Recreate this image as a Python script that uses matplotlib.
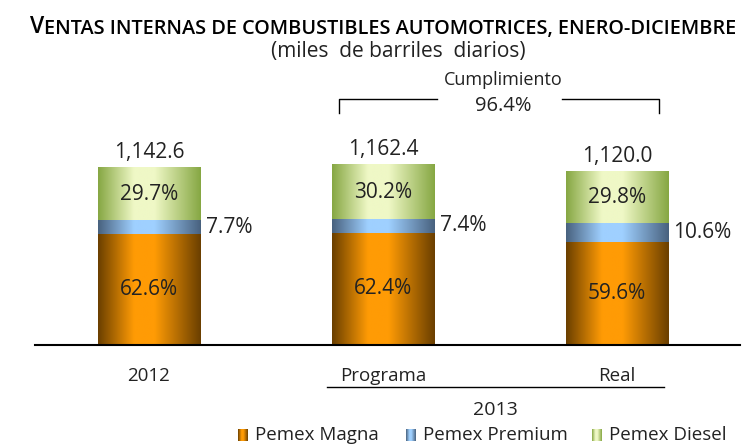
import matplotlib
matplotlib.use("Agg")
import matplotlib.pyplot as plt
import numpy as np
from matplotlib.colors import LinearSegmentedColormap
from matplotlib.transforms import blended_transform_factory

plt.rcParams['font.family'] = ['Open Sans', 'DejaVu Sans']

# data
categories = ['2012', 'Programa', 'Real']
totals = [1142.6, 1162.4, 1120.0]
magna_pct = [62.6, 62.4, 59.6]
premium_pct = [7.7, 7.4, 10.6]
diesel_pct = [29.7, 30.2, 29.8]
cumplimiento = 96.4
series_names = ['Pemex Magna', 'Pemex Premium', 'Pemex Diesel']

W, H = 752, 445
fig = plt.figure(figsize=(W / 100, H / 100), dpi=100)

def fx(px):
    return px / W

def fy(py):
    return 1 - py / H

# axes: baseline at px 345, x from 35 to 740
ax = fig.add_axes([fx(35), fy(345), (740 - 35) / W, 217 / H])
ymax = 1400
xmin, xmax = -0.487, 2.526

def grad_cmap(dark, bright):
    return LinearSegmentedColormap.from_list(
        'g', [(0, dark), (0.35, bright), (0.55, bright), (1, dark)])

cmaps = [grad_cmap('#6a3f00', '#ff9b05'),
         grad_cmap('#48617e', '#9fd0ff'),
         grad_cmap('#86a743', '#eff8c6')]
grad = np.linspace(0, 1, 256).reshape(1, -1)

x = np.arange(len(categories))
width = 0.436
pcts = [magna_pct, premium_pct, diesel_pct]
txt = '#222222'

for i in range(len(categories)):
    bottom = 0
    for k in range(3):
        h = totals[i] * pcts[k][i] / 100
        ax.imshow(grad, cmap=cmaps[k], aspect='auto', interpolation='bilinear',
                  extent=[x[i] - width / 2, x[i] + width / 2, bottom, bottom + h])
        mid = bottom + h / 2
        if k == 1:
            ax.annotate(f'{pcts[k][i]:.1f}%', (x[i] + width / 2, mid),
                        xytext=(4, 0), textcoords='offset points',
                        ha='left', va='center', fontsize=15, color=txt)
        else:
            ax.text(x[i], mid, f'{pcts[k][i]:.1f}%', ha='center', va='center',
                    fontsize=15, color=txt)
        bottom += h
    ax.annotate(f'{totals[i]:,.1f}', (x[i], totals[i]), xytext=(0, 7),
                textcoords='offset points', ha='center', va='baseline',
                fontsize=15, color=txt)

ax.set_xlim(xmin, xmax)
ax.set_ylim(0, ymax)
for s in ['top', 'right', 'left']:
    ax.spines[s].set_visible(False)
ax.spines['bottom'].set_linewidth(1.5)
ax.set_yticks([])
ax.set_xticks(x)
ax.set_xticklabels(categories, fontsize=13.5, color=txt)
ax.tick_params(axis='x', length=0, pad=16)

trans = blended_transform_factory(ax.transData, ax.transAxes)
# underline for 2013
ax.plot([x[1] - 0.24, x[2] + 0.2], [-0.193, -0.193], transform=trans,
        color='black', lw=1, clip_on=False)
ax.text(1.48, -0.30, '2013', transform=trans, ha='center', va='center',
        fontsize=14, color=txt)

# bracket
yb_top, yb_bot = 1.133, 1.07
ax.plot([0.812, 0.812, 1.231], [yb_bot, yb_top, yb_top], transform=trans,
        color='black', lw=1, clip_on=False)
ax.plot([1.765, 2.18, 2.18], [yb_top, yb_top, yb_bot], transform=trans,
        color='black', lw=1, clip_on=False)
ax.text(1.513, 1.221, 'Cumplimiento', transform=trans, ha='center',
        va='center', fontsize=13, color=txt)
ax.text(1.513, 1.101, f'{cumplimiento:.1f}%', transform=trans, ha='center',
        va='center', fontsize=14.5, color=txt)

# title with small caps look
t1 = fig.text(fx(30), fy(33), 'V', fontsize=16.5, fontweight='semibold',
              ha='left', va='baseline', color='black')
fig.canvas.draw()
ax.annotate('ENTAS INTERNAS DE COMBUSTIBLES AUTOMOTRICES, ENERO-DICIEMBRE',
            xy=(1, 0), xycoords=t1, xytext=(0, 0), textcoords='offset points',
            ha='left', va='bottom', fontsize=14.3, fontweight='semibold',
            color='black', annotation_clip=False)
fig.text(fx(398), fy(51), '(miles  de barriles  diarios)', ha='center',
         va='center', fontsize=15, color=txt)

# legend
leg_sq = [238, 406, 592]
for k in range(3):
    lax = fig.add_axes([fx(leg_sq[k]), fy(441), 10 / W, 12 / H])
    lax.imshow(grad, cmap=cmaps[k], aspect='auto')
    lax.axis('off')
    fig.text(fx(leg_sq[k] + 17), fy(435), series_names[k], ha='left',
             va='center', fontsize=13.5, color=txt)

fig.savefig('out.png', dpi=100)
